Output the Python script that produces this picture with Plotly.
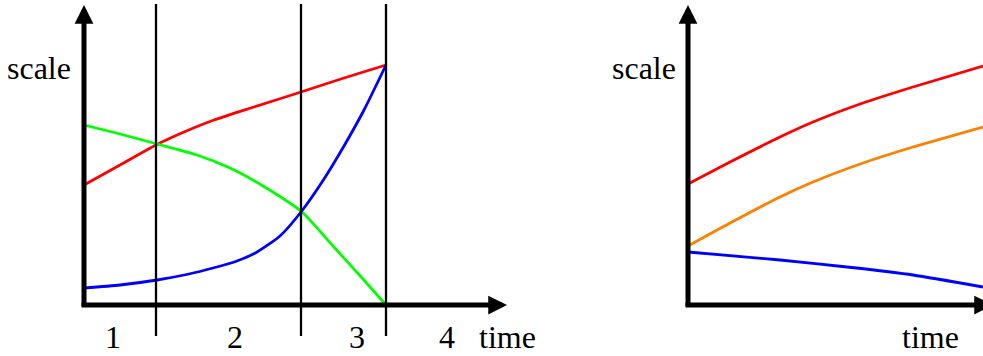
import plotly.graph_objects as go

# ---------------- data ----------------
# left panel: time (arbitrary units) and scale values
phase_bounds = [0.72, 2.17, 3.02]
phase_labels = ["1", "2", "3", "4"]
phase_label_t = [0.29, 1.51, 2.73, 3.63]

red_t = [0, 0.36, 0.72, 1.0, 1.3, 1.7, 2.17, 2.6, 3.02]
red_s = [1.20, 1.40, 1.60, 1.73, 1.85, 1.98, 2.13, 2.27, 2.40]

green_t = [0, 0.36, 0.73, 1.13, 1.46, 1.79, 2.18, 2.49, 2.79, 3.02]
green_s = [1.80, 1.71, 1.61, 1.50, 1.37, 1.19, 0.93, 0.59, 0.26, 0.0]

blue_t = [0, 0.36, 0.73, 1.05, 1.29, 1.53, 1.73, 1.96, 2.17, 2.40, 2.60, 2.80, 3.02]
blue_s = [0.17, 0.20, 0.25, 0.31, 0.37, 0.44, 0.53, 0.69, 0.93, 1.26, 1.59, 1.95, 2.40]

# right panel
r_red_t = [0, 0.42, 0.92, 1.25, 1.75, 2.25, 2.95]
r_red_s = [1.21, 1.43, 1.68, 1.83, 2.02, 2.18, 2.39]

r_orange_t = [0, 0.42, 0.92, 1.25, 1.75, 2.25, 2.95]
r_orange_s = [0.59, 0.82, 1.08, 1.23, 1.42, 1.58, 1.78]

r_blue_t = [0, 0.92, 1.59, 2.25, 2.95]
r_blue_s = [0.53, 0.45, 0.38, 0.30, 0.18]

# ---------------- figure ----------------
W, H = 983, 356
FONT = "Liberation Serif"
RED, GREEN, BLUE, ORANGE = "#ff0000", "#00ff00", "#0000ff", "#ff8000"
LW = 2.8

fig = go.Figure()

def add_line(t, s, color, xa):
    fig.add_trace(go.Scatter(x=t, y=s, mode="lines", xaxis=xa, yaxis="y",
                             line=dict(color=color, width=LW, shape="spline", smoothing=0.6),
                             hoverinfo="skip", showlegend=False))

add_line(red_t, red_s, RED, "x")
add_line(green_t, green_s, GREEN, "x")
add_line(blue_t, blue_s, BLUE, "x")
add_line(r_red_t, r_red_s, RED, "x2")
add_line(r_orange_t, r_orange_s, ORANGE, "x2")
add_line(r_blue_t, r_blue_s, BLUE, "x2")

# phase boundaries
for b in phase_bounds:
    fig.add_shape(type="line", xref="x", yref="y", x0=b, x1=b, y0=-0.31, y1=3.01,
                  line=dict(color="black", width=2.3))

# axes with arrows
AW = 5
def axis_arrow(xref, x_tip, y_tip, x_tail, y_tail):
    fig.add_annotation(xref=xref, yref="y", axref=xref, ayref="y",
                       x=x_tip, y=y_tip, ax=x_tail, ay=y_tail, text="",
                       showarrow=True, arrowhead=2, arrowsize=0.75, arrowwidth=AW,
                       arrowcolor="black", standoff=0, startstandoff=0)

axis_arrow("x", 0, 3.0, 0, -0.025)
axis_arrow("x", 4.23, 0, -0.04, 0)
axis_arrow("x2", 0, 3.0, 0, -0.025)
axis_arrow("x2", 3.05, 0, -0.04, 0)

# text labels
def label(xref, x, y, text, xanchor="center"):
    fig.add_annotation(xref=xref, yref="y", x=x, y=y, text=text, showarrow=False,
                       xanchor=xanchor, yanchor="middle",
                       font=dict(family=FONT, size=32, color="black"))

label("x", -0.11, 2.37, "scale", "right")
label("x2", -0.10, 2.37, "scale", "right")
label("x", 4.23, -0.32, "time")
label("x2", 2.42, -0.32, "time")
for t, txt in zip(phase_label_t, phase_labels):
    label("x", t, -0.32, txt)

D = 590 / W
ax_common = dict(visible=False, showgrid=False, zeroline=False, fixedrange=True)
fig.update_layout(
    width=W, height=H, autosize=False,
    margin=dict(l=0, r=0, t=0, b=0, pad=0),
    paper_bgcolor="white", plot_bgcolor="white",
    xaxis=dict(domain=[0, D], range=[-0.84, 5.06], **ax_common),
    xaxis2=dict(domain=[D, 1], range=[-0.98, 2.95], **ax_common),
    yaxis=dict(domain=[0, 1], range=[-0.51, 3.05], **ax_common),
    showlegend=False,
)

fig.write_html("out.html", config={"displayModeBar": False},
               post_script="document.body.style.margin='0';document.body.style.padding='0';document.body.style.overflow='hidden';")
